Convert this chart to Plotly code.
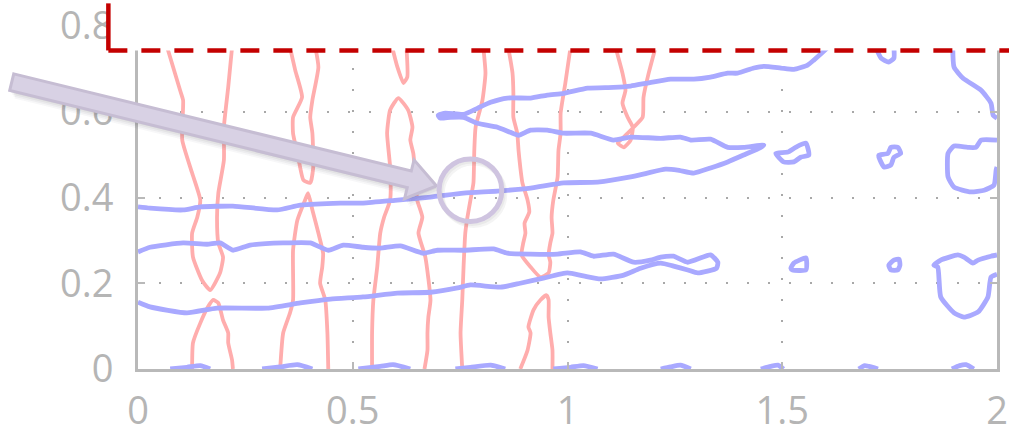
import plotly.graph_objects as go

# ---------------- axis ticks ----------------
X_TICKS = [0, 0.5, 1, 1.5, 2]
X_TICK_TEXT = ["0", "0.5", "1", "1.5", "2"]
Y_TICKS = [0, 0.2, 0.4, 0.6, 0.8]
Y_TICK_TEXT = ["0", "0.2", "0.4", "0.6", "0.8"]
X_RANGE = [0, 2]
Y_RANGE = [0, 0.8]

# ---------------- red contour lines ----------------
red1_top_x = [0.068, 0.098, 0.105, 0.103, 0.126, 0.145, 0.138, 0.126, 0.128, 0.149, 0.168,
              0.191, 0.198, 0.187, 0.184, 0.187, 0.200, 0.200, 0.210, 0.219]
red1_top_y = [0.75, 0.650, 0.627, 0.534, 0.457, 0.394, 0.354, 0.317, 0.261, 0.207, 0.184,
              0.224, 0.261, 0.294, 0.354, 0.410, 0.487, 0.564, 0.657, 0.75]
red1_bot_x = [0.126, 0.128, 0.145, 0.163, 0.175, 0.187, 0.198, 0.210, 0.210, 0.219, 0.221]
red1_bot_y = [0.0, 0.061, 0.107, 0.145, 0.161, 0.154, 0.114, 0.084, 0.061, 0.021, 0.0]

red2_top_x = [0.354, 0.366, 0.382, 0.361, 0.361, 0.373, 0.385, 0.401, 0.408, 0.406, 0.401,
              0.406, 0.420, 0.413]
red2_top_y = [0.75, 0.697, 0.634, 0.587, 0.550, 0.494, 0.441, 0.434, 0.471, 0.550, 0.587,
              0.627, 0.704, 0.75]
red2_bot_x = [0.331, 0.338, 0.354, 0.361, 0.361, 0.371, 0.389, 0.396, 0.406, 0.420, 0.431,
              0.429, 0.424, 0.436, 0.441, 0.443]
red2_bot_y = [0.0, 0.084, 0.131, 0.161, 0.277, 0.347, 0.394, 0.410, 0.371, 0.317, 0.270,
              0.238, 0.200, 0.161, 0.084, 0.0]

red3_top_x = [0.592, 0.604, 0.618, 0.627, 0.625]
red3_top_y = [0.75, 0.704, 0.667, 0.681, 0.75]
red3_bot_x = [0.545, 0.545, 0.548, 0.557, 0.564, 0.573, 0.587, 0.587, 0.580, 0.587, 0.606,
              0.629, 0.639, 0.634, 0.641, 0.646, 0.650, 0.662, 0.653, 0.669, 0.681, 0.676,
              0.674, 0.674, 0.667]
red3_bot_y = [0.0, 0.084, 0.161, 0.238, 0.317, 0.354, 0.394, 0.471, 0.550, 0.604, 0.632,
              0.604, 0.564, 0.534, 0.503, 0.448, 0.394, 0.354, 0.317, 0.261, 0.161, 0.121,
              0.084, 0.044, 0.0]

red4_x = [0.804, 0.809, 0.802, 0.786, 0.783, 0.781, 0.774, 0.767, 0.762, 0.758, 0.755,
          0.751, 0.755]
red4_y = [0.75, 0.690, 0.627, 0.564, 0.510, 0.434, 0.394, 0.354, 0.317, 0.238, 0.161,
          0.084, 0.0]

red5_top_x = [0.862, 0.872, 0.874, 0.874, 0.883, 0.886, 0.890, 0.895, 0.907, 0.911, 0.900,
              0.902, 0.897, 0.893, 0.914, 0.937, 0.956, 0.960, 0.956, 0.960, 0.965, 0.963,
              0.967, 0.977, 0.979, 0.984, 0.984, 0.995, 1.007]
red5_top_y = [0.75, 0.690, 0.643, 0.587, 0.550, 0.510, 0.471, 0.434, 0.394, 0.366, 0.340,
              0.317, 0.294, 0.266, 0.238, 0.214, 0.224, 0.249, 0.266, 0.294, 0.317, 0.354,
              0.394, 0.448, 0.510, 0.550, 0.597, 0.667, 0.75]
red5_bot_x = [0.890, 0.907, 0.914, 0.909, 0.921, 0.937, 0.951, 0.956, 0.956, 0.960, 0.965, 0.965]
red5_bot_y = [0.0, 0.044, 0.084, 0.098, 0.138, 0.161, 0.172, 0.161, 0.121, 0.084, 0.044, 0.0]

red6_x = [1.112, 1.128, 1.135, 1.128, 1.140, 1.152, 1.147, 1.131, 1.117, 1.131, 1.154,
          1.175, 1.177, 1.189, 1.205]
red6_y = [0.75, 0.690, 0.650, 0.620, 0.587, 0.564, 0.534, 0.517, 0.527, 0.541, 0.564,
          0.587, 0.634, 0.690, 0.75]

# ---------------- blue contour lines ----------------
blue_a_x = [0.0, 0.028, 0.105, 0.145, 0.221, 0.324, 0.378, 0.471, 0.524, 0.604, 0.681,
            0.758, 0.837, 0.914, 0.991, 1.070, 1.147, 1.186, 1.228, 1.256, 1.294, 1.333,
            1.373, 1.410, 1.450, 1.457,
            1.410, 1.373, 1.333, 1.287, 1.263, 1.217, 1.147, 1.107, 1.054, 0.991, 0.953,
            0.914, 0.886, 0.867, 0.837, 0.790, 0.758, 0.727, 0.704, 0.699, 0.716, 0.758,
            0.790, 0.821, 0.860, 0.914, 0.953, 0.991, 1.047, 1.107, 1.147, 1.186, 1.240,
            1.294, 1.333, 1.373, 1.396, 1.434, 1.457, 1.497, 1.527, 1.559, 1.573, 1.606]
blue_a_y = [0.378, 0.375, 0.371, 0.378, 0.380, 0.371, 0.382, 0.387, 0.387, 0.394, 0.401,
            0.410, 0.415, 0.422, 0.434, 0.436, 0.448, 0.457, 0.466, 0.464, 0.457, 0.469,
            0.483, 0.499, 0.517, 0.522,
            0.517, 0.517, 0.536, 0.534, 0.541, 0.538, 0.541, 0.534, 0.550, 0.550, 0.557,
            0.557, 0.545, 0.552, 0.564, 0.573, 0.587, 0.587, 0.585, 0.592, 0.597, 0.594,
            0.608, 0.622, 0.632, 0.632, 0.639, 0.643, 0.655, 0.657, 0.660, 0.667, 0.676,
            0.676, 0.681, 0.690, 0.690, 0.702, 0.706, 0.702, 0.699, 0.709, 0.720, 0.75]

blue_b_x = [0.0, 0.028, 0.105, 0.161, 0.191, 0.221, 0.261, 0.338, 0.401, 0.443, 0.478,
            0.524, 0.564, 0.611, 0.664, 0.697, 0.758, 0.828, 0.860, 0.914, 0.977, 1.030,
            1.061, 1.107, 1.154, 1.193, 1.217, 1.247, 1.280, 1.333, 1.350, 1.347, 1.303,
            1.280, 1.247, 1.217,
            1.170, 1.131, 1.077, 1.037, 1.000, 0.944, 0.890, 0.844, 0.774, 0.744, 0.681,
            0.604, 0.524, 0.448, 0.378, 0.301, 0.184, 0.114, 0.028, 0.0]
blue_b_y = [0.273, 0.284, 0.294, 0.291, 0.294, 0.277, 0.289, 0.294, 0.294, 0.277, 0.289,
            0.284, 0.282, 0.287, 0.270, 0.277, 0.277, 0.280, 0.270, 0.268, 0.268, 0.273,
            0.263, 0.268, 0.249, 0.254, 0.261, 0.263, 0.249, 0.266, 0.249, 0.235, 0.224,
            0.231, 0.240, 0.247,
            0.235, 0.219, 0.210, 0.217, 0.224, 0.212, 0.200, 0.191, 0.196, 0.189, 0.179,
            0.177, 0.168, 0.163, 0.154, 0.142, 0.142, 0.131, 0.145, 0.156]

loop1_x = [1.485, 1.503, 1.527, 1.543, 1.562, 1.555, 1.531, 1.513, 1.485]
loop1_y = [0.503, 0.483, 0.483, 0.494, 0.499, 0.527, 0.517, 0.506, 0.503]
loop2_x = [1.725, 1.737, 1.753, 1.760, 1.776, 1.769, 1.753, 1.746, 1.725, 1.725]
loop2_y = [0.494, 0.471, 0.476, 0.494, 0.503, 0.517, 0.517, 0.503, 0.499, 0.494]
loop3_x = [2.0, 1.963, 1.951, 1.932, 1.900, 1.886, 1.886, 1.900, 1.939, 1.970, 1.993, 1.998, 2.0]
loop3_y = [0.534, 0.534, 0.517, 0.517, 0.520, 0.503, 0.448, 0.424, 0.413, 0.417, 0.429, 0.464, 0.471]
loop4_x = [1.897, 1.900, 1.921, 1.963, 1.986, 1.991, 2.0]
loop4_y = [0.75, 0.704, 0.678, 0.650, 0.620, 0.592, 0.585]
loop5_x = [1.718, 1.730, 1.748, 1.760, 1.760]
loop5_y = [0.75, 0.725, 0.716, 0.725, 0.75]
loop6_x = [1.520, 1.527, 1.555, 1.557, 1.555, 1.524, 1.520]
loop6_y = [0.235, 0.247, 0.259, 0.247, 0.231, 0.231, 0.235]
loop7_x = [1.748, 1.760, 1.772, 1.774, 1.769, 1.753, 1.748]
loop7_y = [0.242, 0.254, 0.256, 0.242, 0.231, 0.231, 0.242]
loop8_x = [2.0, 1.986, 1.956, 1.944, 1.923, 1.909, 1.869, 1.853, 1.862, 1.869, 1.900,
           1.923, 1.956, 1.979, 1.986, 2.0]
loop8_y = [0.266, 0.263, 0.254, 0.247, 0.261, 0.266, 0.254, 0.242, 0.238, 0.168, 0.131,
           0.121, 0.133, 0.168, 0.214, 0.221]

# small blue humps sitting on the x axis
hump_x = [[0.075, 0.114, 0.145, 0.168], [0.289, 0.331, 0.371, 0.406],
          [0.513, 0.564, 0.594, 0.634], [0.739, 0.774, 0.821, 0.855],
          [0.967, 1.007, 1.037, 1.070], [1.217, 1.240, 1.263, 1.287],
          [1.450, 1.473, 1.490, 1.503], [1.678, 1.692, 1.702, 1.723],
          [1.895, 1.913, 1.928, 1.946]]
hump_y = [[0.0, 0.004, 0.008, 0.0], [0.0, 0.005, 0.010, 0.0],
          [0.0, 0.006, 0.010, 0.0], [0.0, 0.004, 0.009, 0.0],
          [0.0, 0.004, 0.008, 0.0], [0.0, 0.005, 0.009, 0.0],
          [0.0, 0.006, 0.009, 0.0], [0.0, 0.008, 0.006, 0.0],
          [0.0, 0.008, 0.010, 0.0]]

# annotation marks (data units)
ARROW_START = (-0.294, 0.669)
ARROW_TIP = (0.695, 0.427)
CIRCLE_CENTER = (0.774, 0.417)
CIRCLE_R = 0.073
BOX_CORNER = (-0.069, 0.743)   # lower-left corner of the dashed highlight box

RED = "#ffadad"
BLUE = "#a9a9ff"
GRAY = "#b9b9b9"
PX = 1 / 429.0   # one screen pixel in data units (both axes share the scale)

fig = go.Figure()

red_sets = [(red1_top_x, red1_top_y), (red1_bot_x, red1_bot_y),
            (red2_top_x, red2_top_y), (red2_bot_x, red2_bot_y),
            (red3_top_x, red3_top_y), (red3_bot_x, red3_bot_y),
            (red4_x, red4_y), (red5_top_x, red5_top_y), (red5_bot_x, red5_bot_y),
            (red6_x, red6_y)]
for xs, ys in red_sets:
    fig.add_trace(go.Scatter(x=xs, y=ys, mode="lines",
                             line=dict(color=RED, width=3.8, shape="spline", smoothing=0.5),
                             hoverinfo="skip"))

blue_sets = [(blue_a_x, blue_a_y), (blue_b_x, blue_b_y), (loop1_x, loop1_y),
             (loop2_x, loop2_y), (loop3_x, loop3_y), (loop4_x, loop4_y),
             (loop5_x, loop5_y), (loop6_x, loop6_y), (loop7_x, loop7_y),
             (loop8_x, loop8_y)] + list(zip(hump_x, hump_y))
for xs, ys in blue_sets:
    fig.add_trace(go.Scatter(x=xs, y=ys, mode="lines",
                             line=dict(color=BLUE, width=4.8, shape="spline", smoothing=0.5),
                             hoverinfo="skip"))


def to_paper(x, y):
    return (x - X_RANGE[0]) / (X_RANGE[1] - X_RANGE[0]), (y - Y_RANGE[0]) / (Y_RANGE[1] - Y_RANGE[0])


def poly_path(points, dx=0.0, dy=0.0):
    pts = [to_paper(x + dx, y + dy) for x, y in points]
    return "M " + " L ".join(f"{a:.5f},{b:.5f}" for a, b in pts) + " Z"


# block arrow geometry
sx, sy = ARROW_START
tx, ty = ARROW_TIP
L = ((tx - sx) ** 2 + (ty - sy) ** 2) ** 0.5
ux, uy = (tx - sx) / L, (ty - sy) / L
nx, ny = -uy, ux
hw, hl, hh = 8.5 * PX, 28 * PX, 20 * PX
bx, by = tx - ux * hl, ty - uy * hl
arrow_pts = [(sx + nx * hw, sy + ny * hw), (bx + nx * hw, by + ny * hw),
             (bx + nx * hh, by + ny * hh), (tx, ty),
             (bx - nx * hh, by - ny * hh), (bx - nx * hw, by - ny * hw),
             (sx - nx * hw, sy - ny * hw)]

shapes = []
for k, alpha in [(4, 0.04), (3, 0.05), (2, 0.06), (1, 0.07)]:
    shapes.append(dict(type="path", xref="paper", yref="paper", layer="above",
                       path=poly_path(arrow_pts, k * 1.2 * PX, -k * 2.0 * PX),
                       fillcolor=f"rgba(60,60,70,{alpha})", line=dict(width=0)))
shapes.append(dict(type="path", xref="paper", yref="paper", layer="above",
                   path=poly_path(arrow_pts), fillcolor="#d8d1e4",
                   line=dict(color="#c6bdd3", width=3)))

cx, cy = CIRCLE_CENTER
for k, alpha in [(2, 0.06), (1, 0.06)]:
    shapes.append(dict(type="circle", xref="x", yref="y", layer="above",
                       x0=cx - CIRCLE_R + k * 1.5 * PX, x1=cx + CIRCLE_R + k * 1.5 * PX,
                       y0=cy - CIRCLE_R - k * 2 * PX, y1=cy + CIRCLE_R - k * 2 * PX,
                       line=dict(color=f"rgba(60,60,70,{alpha})", width=5)))
shapes.append(dict(type="circle", xref="x", yref="y", layer="above",
                   x0=cx - CIRCLE_R, x1=cx + CIRCLE_R, y0=cy - CIRCLE_R, y1=cy + CIRCLE_R,
                   line=dict(color="#cfc4e0", width=5)))

# white highlight box with dashed red border (top part of the chart)
bxp, byp = to_paper(*BOX_CORNER)
shapes.append(dict(type="rect", xref="paper", yref="paper", layer="above",
                   x0=bxp, x1=1.05, y0=byp, y1=1.2, fillcolor="white", line=dict(width=0)))
shapes.append(dict(type="line", xref="paper", yref="paper", layer="above",
                   x0=bxp, x1=1.05, y0=byp, y1=byp,
                   line=dict(color="#c40000", width=4.5, dash="19px,14px")))
shapes.append(dict(type="line", xref="paper", yref="paper", layer="above",
                   x0=bxp, x1=bxp, y0=byp, y1=1.066,
                   line=dict(color="#c40000", width=4.5)))

axis_common = dict(showline=True, linecolor=GRAY, linewidth=3, mirror="ticks",
                   ticks="inside", ticklen=7, tickwidth=2, tickcolor=GRAY,
                   showgrid=True, gridcolor="#a8a8a8", gridwidth=2, griddash="2px,19px",
                   zeroline=False, automargin=False, ticklabeloverflow="allow",
                   tickfont=dict(family="Open Sans", size=38, color="#b5b5b5"))

fig.update_layout(
    width=1009, height=429,
    margin=dict(l=138, r=12, t=26, b=60, autoexpand=False),
    plot_bgcolor="white", paper_bgcolor="white",
    showlegend=False,
    shapes=shapes,
    xaxis=dict(range=X_RANGE, tickvals=X_TICKS, ticktext=X_TICK_TEXT,
               ticklabelstandoff=6, **axis_common),
    yaxis=dict(range=Y_RANGE, tickvals=Y_TICKS, ticktext=Y_TICK_TEXT,
               ticklabelstandoff=14, **axis_common),
)

fig.write_html("out.html", config={"displayModeBar": False},
               post_script="document.body.style.margin='0';document.body.style.overflow='hidden';")
